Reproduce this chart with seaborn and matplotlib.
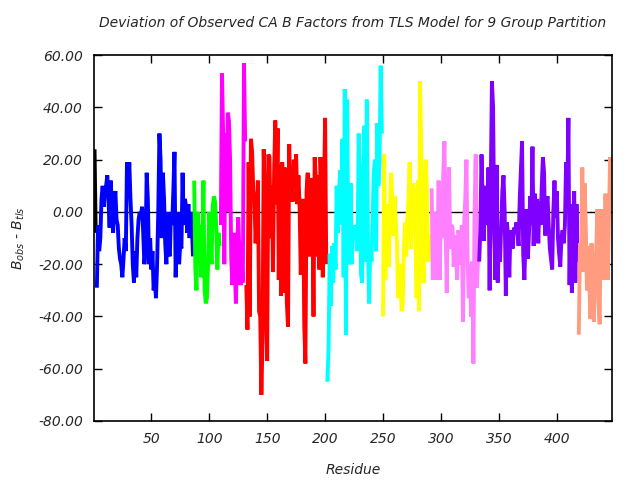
import matplotlib
matplotlib.use("Agg")
import matplotlib.pyplot as plt
import seaborn as sns
import pandas as pd

# group start residues and B-factor deviations
group_names = ["g0", "g1", "g2", "g3", "g4", "g5", "g6", "g7", "g8", "g9"]
group_starts = [1, 3, 87, 110, 132, 202, 250, 292, 333, 419]
group_colors = ["#000000", "#0000ff", "#00ff00", "#ff00ff", "#ff0000",
                "#00ffff", "#ffff00", "#ff80ff", "#8000ff", "#ff9c80"]

black_vals = [24, -8]
blue_vals = [-29, -5, -15, -10, 5, 10, 2, 8,
             10, 14, 5, -6, 12, 0, -8, 4, 8, -3,
             -5, -14, -18, -20, -25, -18, -10, -15, 19, 10,
             19, 5, -5, -20, -27, -15, -25, -10, -3, 0,
             -2, 2, -8, -20, -15, 15, 5, -20, -10, -22,
             -15, -30, -25, -33, -20, 0, 30, 20, -10, 15,
             5, -12, -20, 0, -15, -17, 0, -5, 8, 23,
             -25, -10, 0, -20, -12,
             -14, 15, -5, 5, 2, -8, 3, -10, 0, -5, -17]
green_vals = [12, -22, -30, 0, -10, -5, -25, -15, 12, -30, -35, -33,
              -20, 0, -10, -20, 2, 6, 4, -5, -22, -8, -13]
magenta_vals = [-5, 53, 30, -20, 30, 0, 38, 35, 20, -18, -28, -8,
                -20, -35, -15, -2, -15, -28, -20, -27, 57, 27]
red_vals = [-28, -45, 19, -40, 28, 23, 8, 5, -12, 0, 12, -38, -40, -70,
            -49, 24, 5, -36, -57, 22, 21, -10, 10, -23, 15, 35, 3, 32,
            -26, 18, -32, 19, -31, 17, 6, -35, -44, 26, 7, 12, 4, 20,
            14, 22, 3, 14, 2, -24, -5, 5, -43, -58, 8, 15, -17, 5,
            13, 2, -40, 21, 13, -17, 14, -22, 21, 7, -25, 5, 36, -20]
cyan_vals = [-65, -52, -16, -36, -13, -27, -12, -22, 10, -8, 7, 16,
             -5, 28, -25, 47, -47, 43, -7, -20,
             11, -20, -8, -10, -5, -10, -15, 30, 8, -24, -27, 18, 33,
             -19, 43, -13, -35, -12, -19, -3, 15, 20, -15, 34, 10, 20,
             56, 30]
yellow_vals = [-40, 22, -26, 3, -10, -21, 0, 15, 5, -9, 6, -4, -12, -33,
               -26, -20, -38, -36, -15, -4, -17, -2, 5, 19, -14, 0, 11, 7,
               -10, -33, 12, -38, 50, 24, -10, -27, 4, 20, 5, -19, -9, -12]
pink_vals = [9, -26, 0, -13, -26, -13, 12, -26, 6, -10, 15, 27, -5, -31,
             5, 17, -14, -5, -6, -21, -9, -15, -26, -7, -10, -20, -5, -42,
             -5, 5, 20, -19, -33, -20, -40, -19, -58, 0, 22, -29, -18]
purple_vals = [-19, -7, 22, 5, -11, 6, 10, -5, 17, -30, 10, 50, 40, -9,
               -26, 18, -27, -12, -19, -5, 8, 14, 0, -32, -4, -10, -25, -7,
               -10, -14, -6, -8, -4, -7, -13, 5, 16, 27,
               -16, -26, -10, 1, -18, -8, 6, -5, 25, -13, 7, -7, 5, -12,
               4, -5, 10, 21, 15, -9, 3, 6, -5, -14, -18, -22, 0, 12, -2,
               8, -10, -16, -21, -10, -7, -12, -5, 19, 5, 36, -28, 3, -31,
               -5, 8, -27, 3, -19]
salmon_vals = [-47, -12, -20, 17, -23, 11, -5, -30, -13, -25, -41, -12,
               -30, -42, -21, -15, 1, -35, -43, 1, -21, 1, -26, 7, -14,
               -26, -3, 21, 12]

all_vals = [black_vals, blue_vals, green_vals, magenta_vals, red_vals,
            cyan_vals, yellow_vals, pink_vals, purple_vals, salmon_vals]

y_ticks = [-80, -60, -40, -20, 0, 20, 40, 60]
x_ticks = [50, 100, 150, 200, 250, 300, 350, 400]

rows = []
for name, start, vals in zip(group_names, group_starts, all_vals):
    for i, v in enumerate(vals):
        rows.append({"residue": start + i, "dev": v, "group": name})
df = pd.DataFrame(rows)

sns.set_style("white")
plt.rcParams['font.family'] = ['DejaVu Sans']

fig = plt.figure(figsize=(6.4, 4.8), dpi=100)
ax = fig.add_axes([0.147, 0.123, 0.809, 0.762])

ax.axhline(0, color="black", lw=1.0, zorder=1)
sns.lineplot(data=df, x="residue", y="dev", hue="group",
             palette=dict(zip(group_names, group_colors)),
             estimator=None, sort=False, lw=2.8, legend=False, ax=ax, zorder=2)
for ln in ax.lines[1:]:
    ln.set_solid_joinstyle("bevel")
    ln.set_solid_capstyle("butt")

ax.set_xlim(0.6, 447.5)
ax.set_ylim(-80, 60)
ax.set_xticks(x_ticks)
ax.set_xticklabels([str(t) for t in x_ticks], fontstyle="italic", fontsize=10)
ax.set_yticks(y_ticks)
ax.set_yticklabels([f"{t:.2f}" for t in y_ticks], fontstyle="italic", fontsize=10)
ax.tick_params(direction="in", length=6, width=1, top=True, right=True,
               bottom=True, left=True, pad=8, color="black")
for s in ax.spines.values():
    s.set_visible(True)
    s.set_color("black")
    s.set_linewidth(1.2)

ax.set_xlabel("Residue", fontstyle="italic", fontsize=10, labelpad=12)
ax.set_ylabel(r"$B_{obs}$ - $B_{tls}$", fontstyle="italic", fontsize=10, labelpad=8)
ax.set_title("Deviation of Observed CA B Factors from TLS Model for 9 Group Partition",
             fontstyle="italic", fontsize=10, pad=20)

fig.savefig("out.png", dpi=100)
